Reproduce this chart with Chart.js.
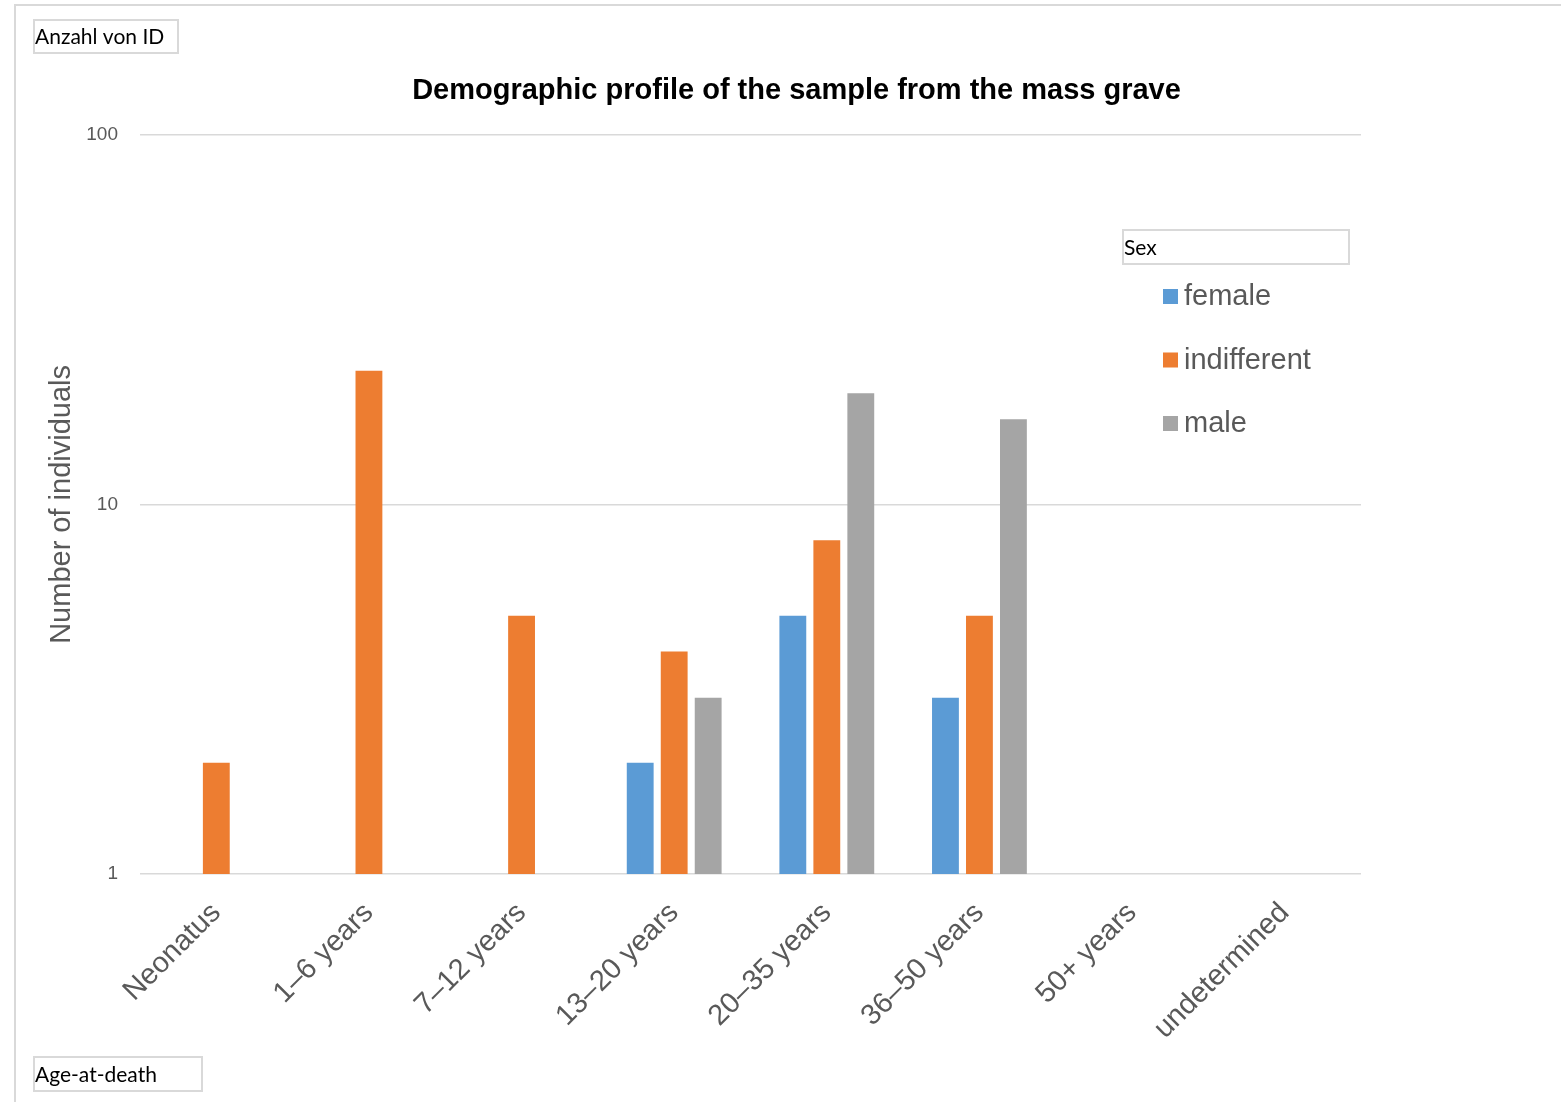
<!DOCTYPE html>
<html>
<head>
<meta charset="utf-8">
<script src="https://cdn.jsdelivr.net/npm/chart.js@4.4.1/dist/chart.umd.min.js"></script>
<style>
  body{ margin:0; background:#fff; }
  canvas{ display:block; }
</style>
</head>
<body>
<canvas id="chart" width="1561" height="1102"></canvas>
<script>
// ---- data ----
const AGE_GROUPS  = ["Neonatus", "1–6 years", "7–12 years", "13–20 years", "20–35 years", "36–50 years", "50+ years", "undetermined"];
const FEMALE      = [null, null, null, 2, 5, 3, null, null];
const INDIFFERENT = [2, 23, 5, 4, 8, 5, null, null];
const MALE        = [null, null, null, 3, 20, 17, null, null];
const Y_TICKS     = [1, 10, 100];

const SERIES_NAMES = ["female", "indifferent", "male"];
const COLORS = ["#5B9BD5", "#ED7D31", "#A5A5A5"];

const GRID = "#d9d9d9";
const AXIS_TXT = "#595959";

function $(id){ return document.getElementById(id); }

function fieldButton(ctx, x, y, w, h, txt){
  ctx.strokeStyle = GRID;
  ctx.lineWidth = 2;
  ctx.strokeRect(x, y, w, h);
  ctx.fillStyle = "#000";
  ctx.font = "21px Lato, 'Open Sans', sans-serif";
  ctx.textAlign = "left";
  ctx.textBaseline = "middle";
  ctx.fillText(txt, x + 1, y + h / 2 + 1);
}

// frame, pivot field buttons and legend (Excel pivot chart look)
const pivotDecor = {
  id: "pivotDecor",
  afterDraw(c){
    const ctx = c.ctx;
    ctx.save();
    ctx.strokeStyle = GRID;
    ctx.lineWidth = 2;
    ctx.beginPath();
    ctx.moveTo(15, 1102); ctx.lineTo(15, 5); ctx.lineTo(1561, 5);
    ctx.stroke();

    fieldButton(ctx, 34, 20, 144, 33, "Anzahl von ID");
    fieldButton(ctx, 1123, 230, 226, 34, "Sex");
    fieldButton(ctx, 34, 1057, 168, 34, "Age-at-death");

    // legend
    c.data.datasets.forEach((ds, i) => {
      const y = 296 + i * 63.5;
      ctx.fillStyle = ds.backgroundColor;
      ctx.fillRect(1163, y - 7, 15, 15);
      ctx.fillStyle = AXIS_TXT;
      ctx.font = "29px 'Liberation Sans', Arial, sans-serif";
      ctx.textAlign = "left";
      ctx.textBaseline = "middle";
      ctx.fillText(ds.label, 1184, y + 1);
    });
    ctx.restore();
  }
};

const chart = new Chart($("chart").getContext("2d"), {
  type: "bar",
  data: {
    labels: AGE_GROUPS,
    datasets: [
      { label: SERIES_NAMES[0], data: FEMALE,      backgroundColor: COLORS[0] },
      { label: SERIES_NAMES[1], data: INDIFFERENT, backgroundColor: COLORS[1] },
      { label: SERIES_NAMES[2], data: MALE,        backgroundColor: COLORS[2] }
    ]
  },
  options: {
    responsive: false,
    animation: false,
    layout: { padding: { left: 32, right: 0, top: 0, bottom: 0 } },
    datasets: { bar: { categoryPercentage: 0.668, barPercentage: 0.79, borderWidth: 0 } },
    plugins: {
      legend: { display: false },
      tooltip: { enabled: false },
      title: {
        display: true,
        text: "Demographic profile of the sample from the mass grave",
        color: "#000",
        font: { family: "'Liberation Sans', Arial, sans-serif", size: 29, weight: "bold" },
        padding: { top: 74, bottom: 26 }
      }
    },
    scales: {
      x: {
        grid: { display: false },
        border: { display: false },
        ticks: {
          color: AXIS_TXT,
          font: { family: "'Liberation Sans', Arial, sans-serif", size: 29 },
          maxRotation: 45, minRotation: 45,
          autoSkip: false,
          padding: 14
        },
        afterFit(s){ s.height = 228; }
      },
      y: {
        type: "logarithmic",
        min: 1, max: 100,
        grid: { color: GRID, lineWidth: 1.5, drawTicks: false },
        border: { display: false },
        afterBuildTicks(s){ s.ticks = Y_TICKS.map(v => ({ value: v })); },
        ticks: {
          color: AXIS_TXT,
          font: { family: "'Liberation Sans', Arial, sans-serif", size: 19 },
          padding: 22,
          callback: v => String(v)
        },
        title: {
          display: true,
          text: "Number of individuals",
          color: AXIS_TXT,
          font: { family: "'Liberation Sans', Arial, sans-serif", size: 29 },
          padding: { top: 13, bottom: 0 }
        },
        afterFit(s){ s.width = 108; }
      },
      // empty right-hand space where the legend sits
      yPad: {
        position: "right",
        grid: { drawOnChartArea: false, drawTicks: false },
        border: { display: false },
        ticks: { display: false },
        afterFit(s){ s.width = 200; }
      }
    }
  },
  plugins: [pivotDecor]
});
</script>
</body>
</html>
